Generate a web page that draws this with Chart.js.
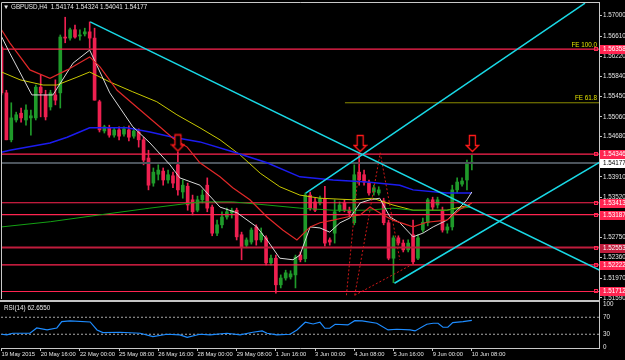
<!DOCTYPE html>
<html>
<head>
<meta charset="utf-8">
<script src="https://cdn.jsdelivr.net/npm/chart.js@4.4.0/dist/chart.umd.min.js"></script>
<style>
html, body { margin: 0; padding: 0; background: #000; }
#wrap { position: relative; width: 625px; height: 360px; background: #000; overflow: hidden; }
#main { position: absolute; left: 0; top: 0; }
#rsi { position: absolute; left: 0; top: 299px; }
.lbl { position: absolute; font-family: "Liberation Sans", Arial, sans-serif; font-size: 6.3px; color: #e8e8e8; white-space: pre; }
</style>
</head>
<body>
<div id="wrap">
  <canvas id="main" width="625" height="300"></canvas>
  <canvas id="rsi" width="625" height="61"></canvas>
  <div class="lbl" style="left:3px;top:3px;">▼ GBPUSD,H4  1.54174 1.54324 1.54041 1.54177</div>
  <div class="lbl" style="left:4px;top:304px;">RSI(14) 62.6550</div>
</div>
<script>
// H4 candles, bar 0 = 19 May 08:00 ... bar 96 = 10 Jun 08:00
const opens = [
  1.5640,1.5552,1.5462,1.5500,1.5513,1.5500,1.5504,1.5504,1.5563,1.5548,
  1.5525,1.5548,1.5552,1.5659,1.5657,1.5673,1.5661,1.5665,1.5669,1.5657,
  1.5535,1.5479,1.5485,1.5471,1.5481,1.5473,1.5481,1.5469,1.5477,1.5462,
  1.5427,1.5379,1.5396,1.5402,1.5385,1.5393,1.5414,1.5362,1.5373,1.5347,
  1.5327,1.5347,1.5375,1.5333,1.5283,1.5299,1.5314,1.5322,1.5327,1.5280,
  1.5260,1.5266,1.5295,1.5270,1.5274,1.5226,1.5235,1.5184,1.5197,1.5199,
  1.5203,1.5241,1.5234,1.5356,1.5343,1.5341,1.5349,1.5270,1.5283,1.5327,
  1.5341,1.5327,1.5303,1.5400,1.5395,1.5379,1.5362,1.5360,1.5345,1.5303,
  1.5235,1.5274,1.5264,1.5251,1.5280,1.5235,1.5289,1.5303,1.5347,1.5337,
  1.5327,1.5289,1.5295,1.5366,1.5377,1.5385,1.54174
];
const highs = [
  1.5644,1.5557,1.5533,1.5515,1.5523,1.5529,1.5519,1.5567,1.5586,1.5557,
  1.5557,1.5577,1.5663,1.5697,1.5676,1.5682,1.5673,1.5676,1.5688,1.5676,
  1.5538,1.5490,1.5490,1.5485,1.5487,1.5487,1.5489,1.5485,1.5483,1.5467,
  1.5442,1.5408,1.5414,1.5408,1.5404,1.5400,1.5439,1.5385,1.5379,1.5356,
  1.5354,1.5366,1.5389,1.5337,1.5308,1.5324,1.5331,1.5331,1.5331,1.5285,
  1.5274,1.5293,1.5299,1.5293,1.5278,1.5241,1.5241,1.5203,1.5212,1.5211,
  1.5241,1.5247,1.5360,1.5362,1.5350,1.5354,1.5373,1.5274,1.5347,1.5343,
  1.5347,1.5333,1.5414,1.5437,1.5404,1.5385,1.5375,1.5372,1.5350,1.5308,
  1.5278,1.5278,1.5270,1.5270,1.5308,1.5280,1.5312,1.5350,1.5352,1.5352,
  1.5333,1.5301,1.5375,1.5389,1.5389,1.5423,1.54324
];
const lows = [
  1.5548,1.5462,1.5458,1.5496,1.5496,1.5490,1.5471,1.5500,1.5506,1.5500,
  1.5519,1.5529,1.5523,1.5648,1.5653,1.5657,1.5653,1.5661,1.5638,1.5538,
  1.5477,1.5475,1.5467,1.5467,1.5462,1.5469,1.5460,1.5465,1.5448,1.5414,
  1.5366,1.5373,1.5385,1.5375,1.5379,1.5370,1.5356,1.5350,1.5327,1.5318,
  1.5324,1.5341,1.5324,1.5278,1.5278,1.5293,1.5310,1.5312,1.5270,1.5232,
  1.5255,1.5262,1.5260,1.5266,1.5222,1.5222,1.5168,1.5178,1.5193,1.5195,
  1.5178,1.5228,1.5228,1.5327,1.5324,1.5337,1.5258,1.5260,1.5264,1.5324,
  1.5324,1.5316,1.5299,1.5375,1.5375,1.5356,1.5356,1.5356,1.5299,1.5232,
  1.5188,1.5260,1.5247,1.5247,1.5224,1.5232,1.5285,1.5297,1.5327,1.5331,
  1.5285,1.5283,1.5289,1.5360,1.5373,1.5366,1.54041
];
const closes = [
  1.5552,1.5462,1.5504,1.5510,1.5504,1.5519,1.5508,1.5563,1.5552,1.5506,
  1.5552,1.5538,1.5659,1.5657,1.5673,1.5659,1.5663,1.5669,1.5657,1.5538,
  1.5481,1.5487,1.5471,1.5481,1.5469,1.5483,1.5467,1.5479,1.5462,1.5423,
  1.5375,1.5400,1.5404,1.5385,1.5395,1.5379,1.5366,1.5375,1.5337,1.5324,
  1.5347,1.5356,1.5331,1.5283,1.5299,1.5314,1.5324,1.5327,1.5276,1.5257,
  1.5270,1.5289,1.5270,1.5283,1.5226,1.5235,1.5184,1.5197,1.5207,1.5205,
  1.5237,1.5232,1.5356,1.5331,1.5327,1.5349,1.5264,1.5266,1.5324,1.5337,
  1.5327,1.5322,1.5395,1.5385,1.5381,1.5360,1.5370,1.5366,1.5303,1.5235,
  1.5274,1.5264,1.5251,1.5264,1.5228,1.5274,1.5304,1.5347,1.5333,1.5347,
  1.5289,1.5295,1.5366,1.5381,1.5383,1.5418,1.54177
];

const timeBars = [0, 8, 16, 24, 32, 40, 48, 56, 64, 72, 80, 88, 96];
const timeLabels = ['19 May 2015', '20 May 16:00', '22 May 00:00', '25 May 08:00', '26 May 16:00', '28 May 00:00',
  '29 May 08:00', '1 Jun 16:00', '3 Jun 00:00', '4 Jun 08:00', '5 Jun 16:00', '9 Jun 00:00', '10 Jun 08:00'];
const priceTicks = [1.57000, 1.56610, 1.56220, 1.55840, 1.55450, 1.55060, 1.54680, 1.54290,
  1.53910, 1.53520, 1.53130, 1.52750, 1.52360, 1.51970, 1.51590];

// moving averages (bar, price)
const maWhiteBars = [0, 1.7, 6.2, 10.5, 14.6, 18, 22.1, 26.8, 30.3, 34.4, 36.4, 40.5, 44.6, 48.1, 52.1, 54.2, 56.8, 59.5, 60.9, 63, 65, 67, 69.1, 71.1, 73.2, 75.2, 77.2, 79.3, 81.3, 84, 86, 88.1, 90.9, 93, 95, 96];
const maWhite = [1.5660, 1.5628, 1.5548, 1.5548, 1.5609, 1.5634, 1.5552, 1.5487, 1.5456, 1.5414, 1.5389, 1.5375, 1.5333, 1.5322, 1.5295, 1.5270, 1.5235, 1.5232, 1.5241, 1.5295, 1.5293, 1.5285, 1.5303, 1.5312, 1.5341, 1.5347, 1.5350, 1.5314, 1.5303, 1.5276, 1.5283, 1.5295, 1.5308, 1.5327, 1.5347, 1.5362];
const maRedBars = [0, 1.7, 5.8, 9.9, 13.4, 18, 20.1, 23.6, 28.3, 32.3, 35, 37.9, 40.5, 44.6, 47.2, 50.7, 54.2, 57.4, 60.3, 63, 65, 67.7, 70.5, 73.2, 75.2, 77.9, 79.9, 84, 86.8, 90.9, 93.6, 96];
const maRed = [1.5673, 1.5648, 1.5596, 1.5580, 1.5596, 1.5621, 1.5602, 1.5557, 1.5519, 1.5487, 1.5465, 1.5448, 1.5418, 1.5391, 1.5370, 1.5347, 1.5314, 1.5289, 1.5270, 1.5295, 1.5303, 1.5308, 1.5314, 1.5318, 1.5333, 1.5318, 1.5308, 1.5295, 1.5304, 1.5308, 1.5329, 1.5341];
const maYellowBars = [0, 3.8, 8.5, 11.3, 15.4, 18, 22.1, 26.8, 31.7, 35.8, 40.5, 44.6, 48.7, 52.8, 56.8, 60.9, 65, 71.7, 75.8, 79.9, 84, 90.9, 95.6];
const maYellow = [1.5592, 1.5577, 1.5567, 1.5567, 1.5582, 1.5592, 1.5573, 1.5554, 1.5535, 1.5510, 1.5485, 1.5462, 1.5433, 1.5398, 1.5372, 1.5356, 1.5350, 1.5347, 1.5350, 1.5337, 1.5327, 1.5327, 1.5337];
const maBlueBars = [0, 1.7, 9.9, 13.4, 18, 25.6, 30.3, 35, 40.5, 47.2, 54.2, 60.9, 67.7, 74.6, 81.3, 84, 90.9, 96];
const maBlue = [1.5438, 1.5442, 1.5456, 1.5467, 1.5485, 1.5485, 1.5477, 1.5467, 1.5458, 1.5439, 1.5418, 1.5391, 1.5385, 1.5381, 1.5375, 1.5366, 1.5360, 1.5360];
const maGreenBars = [0, 10, 20, 30.3, 40.5, 47.2, 54.2, 60.9, 67.7, 74.6, 79.9, 84, 90.9, 95.6];
const maGreen = [1.5295, 1.5305, 1.5318, 1.5331, 1.5343, 1.5343, 1.5337, 1.5331, 1.5327, 1.5327, 1.5331, 1.5327, 1.5327, 1.5333];

// horizontal levels
const levels = [1.56358, 1.54346, 1.53413, 1.53187, 1.52553, 1.52222, 1.51712];
const bidPrice = 1.54177;
const feLabels = ['FE 100.0', 'FE 61.8'];
const feValues = [1.56358, 1.5533];

// trend lines [bar, price, bar, price]
const trendLines = [
  [18.1, 1.5688, 122.1, 1.5212],
  [62.1, 1.5360, 119.1, 1.5724],
  [80.2, 1.5187, 122.1, 1.5419]
];
const feDotted = [
  [70.4, 1.5164, 73.2, 1.5437],
  [72.1, 1.5164, 77.3, 1.5437],
  [77.3, 1.5437, 81.3, 1.5232],
  [72.1, 1.5164, 84.0, 1.5224]
];
const arrowBars = [36, 73.2, 96.1];
const arrowPrices = [1.5456, 1.5455, 1.5455];

// RSI(14)
const rsiBars = [0, 1.1, 2.3, 5.8, 7.2, 9.3, 11.3, 12.3, 14, 18.1, 19.5, 20.7, 24.2, 28.3, 30.9, 33.8, 36.4, 37.9, 40.5, 42.6, 46, 48.7, 51.3, 53.2, 54.2, 56.2, 58.9, 60.3, 62, 63.6, 65, 66, 67, 68.1, 70.7, 72.1, 73.6, 76.6, 78.9, 80.7, 83.4, 84.4, 86.8, 88.1, 89.1, 90.1, 91.1, 92.1, 94.2, 96];
const rsiValues = [30.0, 28.4, 32.4, 32.4, 44.8, 40.1, 44.8, 59.6, 61.3, 58.9, 40.1, 33.8, 34.7, 32.4, 24.4, 30.0, 28.4, 22.9, 30.0, 28.4, 32.4, 28.4, 34.7, 37.8, 32.4, 28.4, 30.0, 40.1, 58.2, 54.2, 58.2, 44.1, 44.1, 53.5, 51.9, 62.0, 61.3, 55.9, 40.1, 41.8, 40.1, 37.8, 53.5, 55.9, 55.9, 46.5, 46.5, 57.3, 59.6, 62.66];
const rsiLevels = [70, 30];
const rsiTicks = [0, 30, 70, 100];

const X_MIN = -0.1, X_MAX = 121.95;
const AXIS = '#c8c8c8';
const BULL = '#1f9a2a', BEAR = '#ee2050', LEVEL = '#ff2450';

Chart.defaults.font.family = '"Liberation Sans", Arial, sans-serif';
Chart.defaults.font.size = 6.3;
Chart.defaults.color = '#e4e4e4';
Chart.defaults.animation = false;

const barIdx = opens.map((o, i) => i);
const candleCol = barIdx.map(i => closes[i] >= opens[i] ? BULL : BEAR);

function line(xs, ys, color, width, order, dash) {
  return {
    type: 'line', data: xs.map((x, k) => ({ x: x, y: ys[k] })),
    borderColor: color, borderWidth: width, pointRadius: 0, tension: 0,
    borderDash: dash || [], order: order
  };
}

function arrowImage() {
  const c = document.createElement('canvas');
  c.width = 15; c.height = 19;
  const g = c.getContext('2d');
  g.beginPath();
  g.moveTo(4.5, 1.5); g.lineTo(10.5, 1.5); g.lineTo(10.5, 11.5); g.lineTo(13.5, 11.5);
  g.lineTo(7.5, 17.5); g.lineTo(1.5, 11.5); g.lineTo(4.5, 11.5); g.closePath();
  g.fillStyle = '#000'; g.fill();
  g.strokeStyle = '#ff1a1a'; g.lineWidth = 1.3; g.stroke();
  return c;
}

// keep the plot area where the layout padding puts it
function fixY(width) {
  return s => { s.width = width; s.paddingTop = 0; s.paddingBottom = 0; };
}

const mainSets = [];
mainSets.push({
  type: 'bar', data: barIdx.map(i => ({ x: i, y: [lows[i], highs[i]] })),
  backgroundColor: candleCol, barThickness: 1, grouped: false, order: 11
});
mainSets.push({
  type: 'bar', data: barIdx.map(i => ({ x: i, y: [opens[i], closes[i]] })),
  backgroundColor: candleCol, barThickness: 3, minBarLength: 1, grouped: false, order: 10
});
levels.forEach((v, k) => {
  mainSets.push(line([X_MIN, X_MAX], [v, v], k === 4 ? '#c01c3c' : LEVEL, k === 4 ? 2 : 1.2, 8));
});
mainSets.push(line([X_MIN, X_MAX], [bidPrice, bidPrice], '#4c545c', 2, 9));
mainSets.push(line([70.1, X_MAX], [feValues[1], feValues[1]], '#8a8a00', 1, 8));
mainSets.push(line(maGreenBars, maGreen, '#14a014', 1, 5));
mainSets.push(line(maBlueBars, maBlue, '#1c1cf0', 1.5, 5));
mainSets.push(line(maYellowBars, maYellow, '#c8c800', 1, 5));
mainSets.push(line(maRedBars, maRed, '#e02828', 1.2, 4));
mainSets.push(line(maWhiteBars, maWhite, '#d8d8d8', 1, 4));
feDotted.forEach(t => mainSets.push(line([t[0], t[2]], [t[1], t[3]], '#d01818', 1, 3, [2, 2])));
trendLines.forEach(t => mainSets.push(line([t[0], t[2]], [t[1], t[3]], '#19d9e6', 1.5, 2)));
mainSets.push({
  type: 'scatter', data: arrowBars.map((b, k) => ({ x: b, y: arrowPrices[k] })),
  pointStyle: arrowImage(), pointRadius: 8, order: 1
});

const mainDecor = {
  id: 'mainDecor',
  afterDraw(chart) {
    const ctx = chart.ctx, a = chart.chartArea, ys = chart.scales.y;
    ctx.save();
    ctx.strokeStyle = AXIS; ctx.lineWidth = 1;
    ctx.beginPath();
    ctx.moveTo(a.left + 0.5, a.bottom); ctx.lineTo(a.left + 0.5, a.top + 0.5); ctx.lineTo(a.right, a.top + 0.5);
    ctx.stroke();
    ctx.font = '6.3px "Liberation Sans", Arial, sans-serif';
    ctx.textBaseline = 'middle';
    levels.forEach((v, k) => {
      const y = Math.round(ys.getPixelForValue(v));
      ctx.fillStyle = k === 4 ? '#c01c3c' : LEVEL;
      ctx.fillRect(a.right + 1, y - 4, 25, 9);
      ctx.fillStyle = '#ffffff';
      ctx.textAlign = 'left';
      ctx.fillText(v.toFixed(5), a.right + 4, y + 0.5);
      ctx.strokeStyle = LEVEL;
      ctx.strokeRect(a.right - 4.5, y - 1.5, 3, 3);
    });
    const by = Math.round(ys.getPixelForValue(bidPrice));
    ctx.fillStyle = '#ffffff';
    ctx.fillRect(a.right + 1, by - 4, 25, 9);
    ctx.fillStyle = '#000000';
    ctx.fillText(bidPrice.toFixed(5), a.right + 4, by + 0.5);
    ctx.fillStyle = '#e0e000';
    ctx.textAlign = 'right';
    ctx.textBaseline = 'bottom';
    feValues.forEach((v, k) => {
      ctx.fillText(feLabels[k], a.right - 2, ys.getPixelForValue(v) - 1);
    });
    ctx.restore();
  }
};

new Chart(document.getElementById('main'), {
  data: { datasets: mainSets },
  options: {
    responsive: false,
    devicePixelRatio: 1,
    events: [],
    layout: { autoPadding: false, padding: { left: 1, right: 0, top: 2, bottom: 1 } },
    plugins: { legend: { display: false }, tooltip: { enabled: false } },
    scales: {
      x: { type: 'linear', min: X_MIN, max: X_MAX, offset: false, display: false },
      y: {
        position: 'right', min: 1.51568, max: 1.57262, offset: false,
        afterBuildTicks: s => { s.ticks = priceTicks.map(v => ({ value: v })); },
        afterFit: fixY(26),
        ticks: { padding: 1, color: '#e4e4e4', callback: v => v.toFixed(5) },
        grid: { drawOnChartArea: false, tickLength: 3, color: AXIS },
        border: { display: true, color: AXIS }
      }
    }
  },
  plugins: [mainDecor]
});

const rsiSets = [];
rsiLevels.forEach(v => rsiSets.push(line([X_MIN, X_MAX], [v, v], '#a8a8a8', 1, 3, [2, 2])));
rsiSets.push(line(rsiBars, rsiValues, '#1e8cff', 1.2, 1));

const rsiDecor = {
  id: 'rsiDecor',
  beforeDraw(chart) {
    const ctx = chart.ctx;
    ctx.save();
    ctx.fillStyle = '#c4c4c4';
    ctx.fillRect(0, 1, chart.chartArea.right + 1, 2);
    ctx.restore();
  }
};

new Chart(document.getElementById('rsi'), {
  type: 'line',
  data: { datasets: rsiSets },
  options: {
    responsive: false,
    devicePixelRatio: 1,
    events: [],
    layout: { autoPadding: false, padding: { left: 1, right: 0, top: 3, bottom: 0 } },
    plugins: { legend: { display: false }, tooltip: { enabled: false } },
    scales: {
      x: {
        type: 'linear', min: X_MIN, max: X_MAX, offset: false,
        afterBuildTicks: s => { s.ticks = timeBars.map(v => ({ value: v })); },
        afterFit: s => { s.height = 12; },
        ticks: { align: 'start', maxRotation: 0, autoSkip: false, padding: 0, color: '#e4e4e4',
          font: { size: 5.8 }, callback: (v, i) => timeLabels[i] },
        grid: { drawOnChartArea: false, tickLength: 3, color: AXIS },
        border: { display: true, color: AXIS }
      },
      y: {
        position: 'right', min: -2.35, max: 105.9, offset: false,
        afterBuildTicks: s => { s.ticks = rsiTicks.map(v => ({ value: v })); },
        afterFit: fixY(26),
        ticks: { padding: 1, color: '#e4e4e4' },
        grid: { display: false, tickLength: 3 },
        border: { display: true, color: AXIS }
      }
    }
  },
  plugins: [rsiDecor]
});
</script>
</body>
</html>
